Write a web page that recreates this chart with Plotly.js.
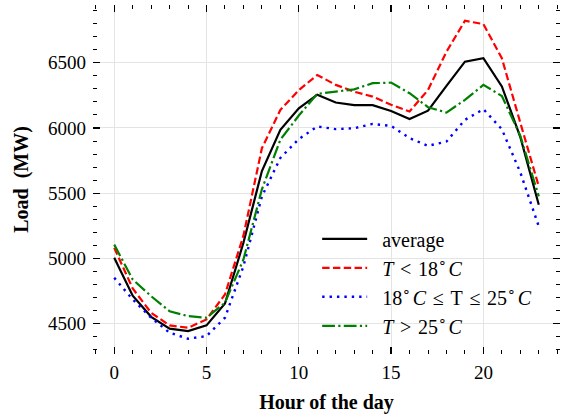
<!DOCTYPE html>
<html>
<head>
<meta charset="utf-8">
<script src="https://cdn.plot.ly/plotly-3.0.1.min.js"></script>
<style>
  html, body { margin: 0; padding: 0; background: #fff; }
  #chart { width: 566px; height: 417px; }
</style>
</head>
<body>
<div id="chart"></div>
<script>
// Hourly load profiles (MW), split by daily temperature band
const hours = [0, 1, 2, 3, 4, 5, 6, 7, 8, 9, 10, 11, 12, 13, 14, 15, 16, 17, 18, 19, 20, 21, 22, 23];

const loadAverage = [5005, 4715, 4553, 4462, 4443, 4487, 4655, 5120, 5670, 5985, 6150, 6255,
                     6195, 6175, 6175, 6130, 6068, 6132, 6322, 6508, 6535, 6318, 5930, 5412];
const loadCold    = [5081, 4770, 4584, 4487, 4469, 4533, 4724, 5175, 5845, 6138, 6290, 6406,
                     6330, 6278, 6240, 6177, 6126, 6291, 6584, 6821, 6796, 6534, 6040, 5552];
const loadMild    = [4852, 4686, 4546, 4431, 4385, 4405, 4546, 4940, 5475, 5770, 5915, 6011,
                     5991, 5998, 6031, 6016, 5922, 5863, 5896, 6062, 6144, 5990, 5660, 5246];
const loadHot     = [5106, 4839, 4711, 4596, 4558, 4546, 4661, 4992, 5530, 5910, 6095, 6261,
                     6278, 6296, 6343, 6347, 6266, 6159, 6118, 6215, 6330, 6245, 5940, 5476];

// legend labels: leading spaces widen the gap after the line sample,
// wider spaces around relation signs give math-style spacing
const pad = '\u00a0\u00a0';
const rel = '\u2004';
const deg = '<sup>∘</sup>\u200a';
const seriesNames = [
  pad + 'average',
  pad + '<i>T</i>' + rel + '&lt;' + rel + '18' + deg + '<i>C</i>',
  pad + '18' + deg + '<i>C</i>' + rel + '≤' + rel + 'T' + rel + '≤' + rel + '25' + deg + '<i>C</i>',
  pad + '<i>T</i>' + rel + '&gt;' + rel + '25' + deg + '<i>C</i>'
];

const xTickVals = [0, 5, 10, 15, 20];
const yTickVals = [4500, 5000, 5500, 6000, 6500];

const serif = 'Liberation Serif';

const traces = [
  { x: hours, y: loadAverage, name: seriesNames[0], mode: 'lines',
    line: { color: '#000000', width: 2.2 } },
  { x: hours, y: loadCold, name: seriesNames[1], mode: 'lines',
    line: { color: '#ff0000', width: 2.2, dash: '7.4px,3.4px' } },
  { x: hours, y: loadMild, name: seriesNames[2], mode: 'lines',
    line: { color: '#0000ff', width: 2.4, dash: '2.4px,5px' } },
  { x: hours, y: loadHot, name: seriesNames[3], mode: 'lines',
    line: { color: '#008000', width: 2.2, dash: '12.8px,3.3px,2.2px,3.3px' } }
];

const axisCommon = {
  ticks: 'inside',
  ticklen: 7,
  tickwidth: 1.3,
  tickcolor: '#000',
  mirror: 'ticks',
  showline: false,
  zeroline: false,
  showgrid: true,
  gridcolor: '#e4e4e4',
  gridwidth: 1,
  tickfont: { family: serif, size: 19, color: '#000' }
};

const layout = {
  width: 566,
  height: 417,
  margin: { l: 93, r: 6, t: 5, b: 63 },
  paper_bgcolor: '#ffffff',
  plot_bgcolor: '#ffffff',
  font: { family: serif, size: 19, color: '#000' },
  showlegend: true,
  xaxis: Object.assign({}, axisCommon, {
    range: [-1.15, 24.15],
    tickmode: 'array',
    tickvals: xTickVals,
    ticklabelstandoff: 5,
    minor: { ticks: 'inside', ticklen: 4, tickwidth: 1, tickcolor: '#000', dtick: 1, tick0: 0, showgrid: false },
    title: { text: '<b>Hour of the day</b>', font: { family: serif, size: 20, color: '#000' }, standoff: 12 }
  }),
  yaxis: Object.assign({}, axisCommon, {
    range: [4268, 6942],
    tickmode: 'array',
    tickvals: yTickVals,
    ticklabelstandoff: 6,
    minor: { ticks: 'inside', ticklen: 4, tickwidth: 1, tickcolor: '#000', dtick: 100, tick0: 0, showgrid: false },
    title: { text: '<b>Load\u00a0 (MW)</b>', font: { family: serif, size: 20, color: '#000' }, standoff: 14 }
  }),
  legend: {
    x: 0.48, y: 0.386,
    xanchor: 'left', yanchor: 'top',
    bgcolor: 'rgba(0,0,0,0)',
    borderwidth: 0,
    itemwidth: 45,
    font: { family: serif, size: 20, color: '#000' }
  }
};

Plotly.newPlot('chart', traces, layout, { staticPlot: true, displayModeBar: false });
</script>
</body>
</html>
